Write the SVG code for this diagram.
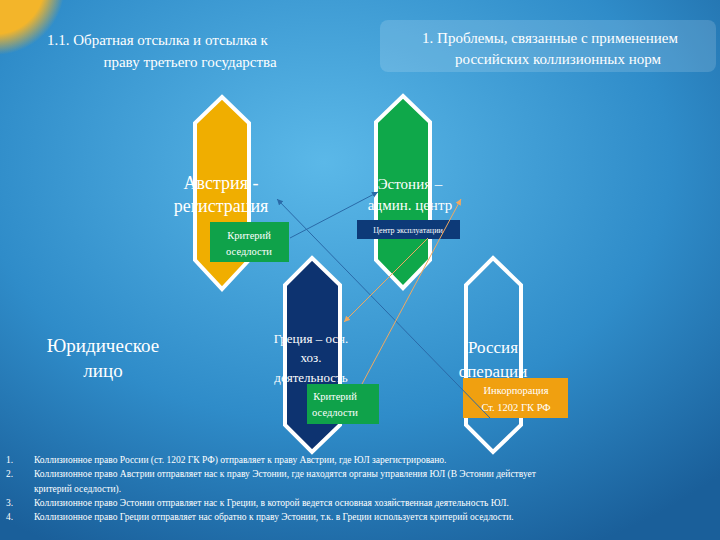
<svg xmlns="http://www.w3.org/2000/svg" width="720" height="540" viewBox="0 0 720 540">
<defs>
<radialGradient id="bg" cx="0.45" cy="0.3" r="0.8">
<stop offset="0" stop-color="#5bb8e8"/><stop offset="0.6" stop-color="#2f8cc9"/><stop offset="1" stop-color="#1a5f9a"/>
</radialGradient>
<radialGradient id="sun" cx="0.5" cy="0.5" r="0.5">
<stop offset="0.7" stop-color="#f3b52a"/><stop offset="1" stop-color="#f3b52a" stop-opacity="0"/>
</radialGradient>
<marker id="ab" markerWidth="8" markerHeight="8" refX="6" refY="3" orient="auto"><path d="M0,0 L6,3 L0,6 z" fill="#2a6aa8"/></marker>
<marker id="ao" markerWidth="8" markerHeight="8" refX="6" refY="3" orient="auto"><path d="M0,0 L6,3 L0,6 z" fill="#f0a860"/></marker>
</defs>
<style>
.hex{stroke:#fff;stroke-width:4}
text{font-family:"Liberation Serif","DejaVu Serif",serif;fill:#fff}
.t{text-anchor:middle}
.s{font-size:9.5px}
.c{fill:none;stroke-width:1}
</style>
<rect width="720" height="540" fill="url(#bg)"/>
<circle cx="-5" cy="-15" r="70" fill="url(#sun)"/>
<rect x="380" y="20" width="336" height="52" rx="8" fill="#ffffff" opacity="0.15"/>
<text x="47" y="45" font-size="15">1.1. Обратная отсылка и отсылка к</text>
<text class="t" x="190" y="67" font-size="15">праву третьего государства</text>
<text class="t" x="550" y="43" font-size="15">1. Проблемы, связанные с применением</text>
<text class="t" x="558" y="64" font-size="15">российских коллизионных норм</text>
<g id="austria"><polygon class="hex" points="222,97 249,123 249,260 222,289 195,260 195,123" fill="#f0ae00"/>
<text class="t" x="221" y="189" font-size="18">Австрия -</text><text class="t" x="221" y="212" font-size="18">регистрация</text>
<rect x="210" y="222" width="79" height="40" fill="#0fa24a"/>
<text class="t" x="249" y="239" font-size="10.5">Критерий</text><text class="t" x="249" y="255" font-size="10.5">оседлости</text></g>
<g id="estonia"><polygon class="hex" points="403,96 430,122 430,260 403,288 376,260 376,122" fill="#0fa84a"/>
<text class="t" x="410" y="189" font-size="15">Эстония –</text><text class="t" x="410" y="210" font-size="15">админ. центр</text>
<rect x="357" y="220" width="103" height="19" fill="#0d3a78"/>
<text class="t" x="408" y="233" font-size="8">Центр эксплуатации</text></g>
<g id="greece"><polygon class="hex" points="312,258 340,285 340,425 312,452 285,425 285,285" fill="#0d3370"/>
<text class="t" x="311" y="343" font-size="13">Греция – осн.</text><text class="t" x="311" y="362" font-size="13">хоз.</text><text class="t" x="311" y="382" font-size="13">деятельность</text>
<rect x="307" y="384" width="72" height="40" fill="#0fa24a"/>
<text class="t" x="335" y="400" font-size="10.5">Критерий</text><text class="t" x="335" y="416" font-size="10.5">оседлости</text></g>
<g id="russia"><polygon class="hex" points="493,258 521,285 521,425 493,452 466,425 466,285" fill="none"/>
<text class="t" x="493" y="353" font-size="17">Россия</text><text class="t" x="493" y="377" font-size="17">операции</text>
<rect x="463" y="378" width="105" height="40" fill="#f0a010"/>
<text class="t" x="516" y="394" font-size="10.5">Инкорпорация</text><text class="t" x="516" y="411" font-size="10.5">Ст. 1202 ГК РФ</text></g>
<g id="legal"><text class="t" x="103" y="352" font-size="19">Юридическое</text><text class="t" x="103" y="377" font-size="19">лицо</text></g>
<g id="connectors">
<line class="c" x1="490" y1="418" x2="277" y2="199" stroke="#2a6aa8" marker-end="url(#ab)"/>
<line class="c" x1="290" y1="238" x2="378" y2="192" stroke="#2a6aa8" marker-end="url(#ab)"/>
<line class="c" x1="362" y1="384" x2="461" y2="199" stroke="#f0a860" stroke-width="1.5" marker-end="url(#ao)"/>
<line class="c" x1="428" y1="238" x2="344" y2="322" stroke="#f0a860" stroke-width="1.5" marker-end="url(#ao)"/>
</g>
<g id="notes">
<text class="s" x="6" y="463">1.</text><text class="s" x="34" y="463">Коллизионное право России (ст. 1202 ГК РФ) отправляет к праву Австрии, где ЮЛ зарегистрировано.</text>
<text class="s" x="6" y="477">2.</text><text class="s" x="34" y="477">Коллизионное право Австрии отправляет нас к праву Эстонии, где находятся органы управления ЮЛ (В Эстонии действует</text>
<text class="s" x="34" y="492">критерий оседлости).</text>
<text class="s" x="6" y="506">3.</text><text class="s" x="34" y="506">Коллизионное право Эстонии отправляет нас к Греции, в которой ведется основная хозяйственная деятельность ЮЛ.</text>
<text class="s" x="6" y="520">4.</text><text class="s" x="34" y="520">Коллизионное право Греции отправляет нас обратно к праву Эстонии, т.к. в Греции используется критерий оседлости.</text>
</g>
</svg>
